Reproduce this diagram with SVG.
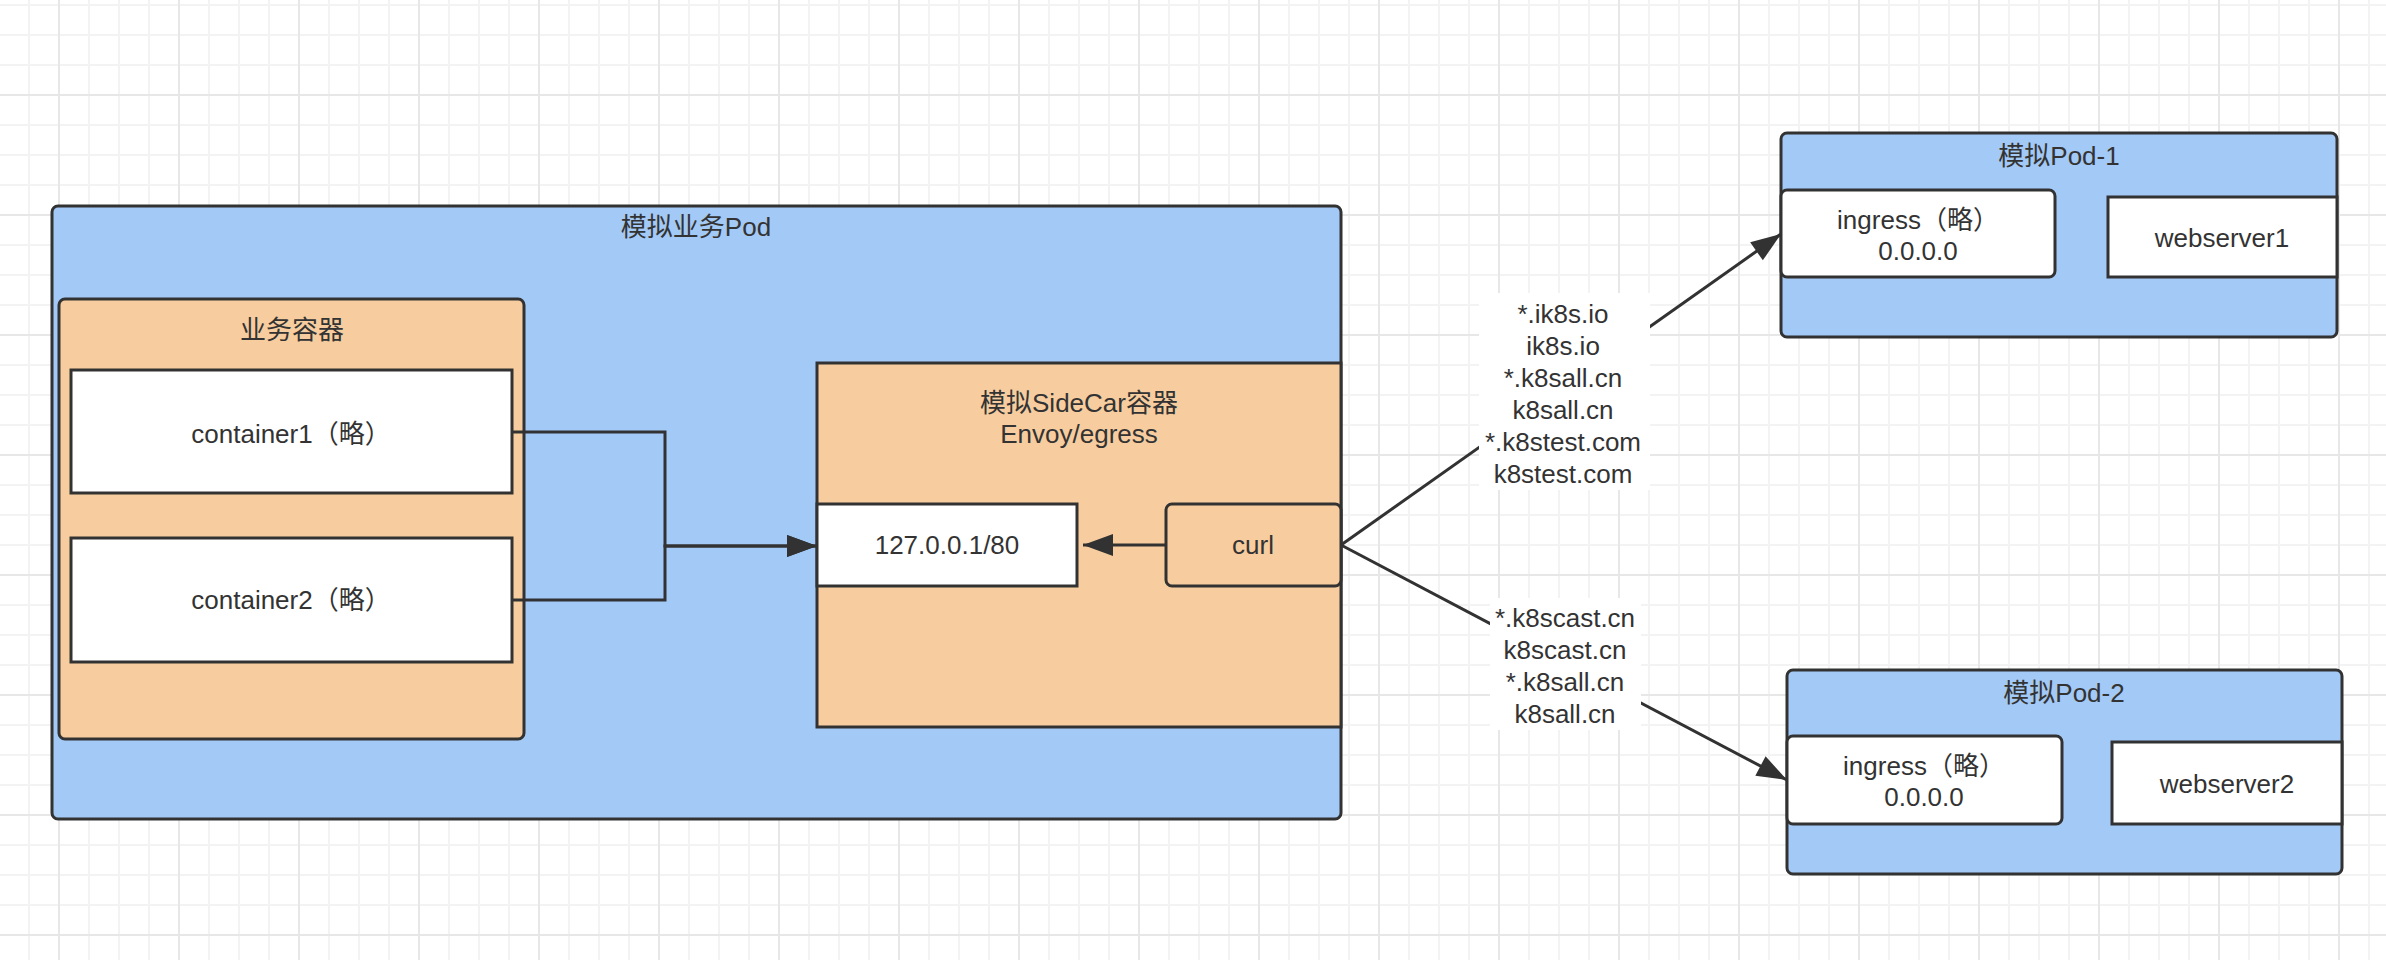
<svg xmlns="http://www.w3.org/2000/svg" width="2386" height="960" viewBox="0 0 2386 960">
<style>
text{font-family:"Liberation Sans","Noto Sans CJK SC",sans-serif;font-size:26px;fill:#333;text-anchor:middle}
.pod{fill:#a3c9f6;stroke:#323232;stroke-width:3}
.peach{fill:#f7cd9f;stroke:#323232;stroke-width:3}
.white{fill:#fff;stroke:#323232;stroke-width:3}
.conn{fill:none;stroke:#323232;stroke-width:3}
.lbl{fill:#fff;stroke:none}
</style>
<defs>
<pattern id="grid" patternUnits="userSpaceOnUse" x="58" y="94" width="120" height="120">
<rect width="120" height="120" fill="#fff"/>
<g fill="#f3f3f3">
<rect x="30" y="0" width="2" height="120"/><rect x="60" y="0" width="2" height="120"/><rect x="90" y="0" width="2" height="120"/>
<rect x="0" y="30" width="120" height="2"/><rect x="0" y="60" width="120" height="2"/><rect x="0" y="90" width="120" height="2"/>
</g>
<g fill="#e7e7e7">
<rect x="0" y="0" width="2" height="120"/><rect x="0" y="0" width="120" height="2"/>
</g>
</pattern>
<marker id="arr" markerUnits="userSpaceOnUse" markerWidth="32" markerHeight="24" refX="31" refY="12" orient="auto">
<path d="M1,1 L31,12 L1,23 z" fill="#323232"/>
</marker>
</defs>
<rect width="2386" height="960" fill="url(#grid)"/>

<g id="main-pod">
<rect class="pod" x="52" y="206" width="1289" height="613" rx="6"/>
<text x="696" y="236">模拟业务Pod</text>
</g>
<g id="biz-container">
<rect class="peach" x="59" y="299" width="465" height="440" rx="6"/>
<text x="292" y="339">业务容器</text>
</g>
<g id="container1">
<rect class="white" x="71" y="370" width="441" height="123"/>
<text x="291" y="443">container1（略）</text>
</g>
<g id="container2">
<rect class="white" x="71" y="538" width="441" height="124"/>
<text x="291" y="609">container2（略）</text>
</g>
<g id="sidecar">
<rect class="peach" x="817" y="363" width="524" height="364"/>
<text x="1079" y="412">模拟SideCar容器</text>
<text x="1079" y="443">Envoy/egress</text>
</g>
<g id="local-port">
<rect class="white" x="817" y="504" width="260" height="82"/>
<text x="947" y="554">127.0.0.1/80</text>
</g>
<g id="curl">
<rect class="peach" x="1166" y="504" width="175" height="82" rx="6"/>
<text x="1253" y="554">curl</text>
</g>

<g id="pod1">
<rect class="pod" x="1781" y="133" width="556" height="204" rx="6"/>
<text x="2059" y="165">模拟Pod-1</text>
</g>
<g id="ingress1">
<rect class="white" x="1781" y="190" width="274" height="87" rx="6"/>
<text x="1918" y="229">ingress（略）</text>
<text x="1918" y="260">0.0.0.0</text>
</g>
<g id="webserver1">
<rect class="white" x="2108" y="197" width="229" height="80"/>
<text x="2222" y="247">webserver1</text>
</g>

<g id="pod2">
<rect class="pod" x="1787" y="670" width="555" height="204" rx="6"/>
<text x="2064" y="702">模拟Pod-2</text>
</g>
<g id="ingress2">
<rect class="white" x="1787" y="736" width="275" height="88" rx="6"/>
<text x="1924" y="775">ingress（略）</text>
<text x="1924" y="806">0.0.0.0</text>
</g>
<g id="webserver2">
<rect class="white" x="2112" y="742" width="230" height="82"/>
<text x="2227" y="793">webserver2</text>
</g>

<g id="connectors">
<path class="conn" d="M512,432 H665 V546 H817" marker-end="url(#arr)"/>
<path class="conn" d="M512,600 H665 V546 H817" marker-end="url(#arr)"/>
<path class="conn" d="M1166,545 H1083" marker-end="url(#arr)"/>
<path class="conn" d="M1341,545 L1781,234" marker-end="url(#arr)"/>
<path class="conn" d="M1341,545 L1787,780" marker-end="url(#arr)"/>
<rect class="lbl" x="1479" y="293" width="171" height="197"/>
<text x="1563" y="323">*.ik8s.io</text>
<text x="1563" y="355">ik8s.io</text>
<text x="1563" y="387">*.k8sall.cn</text>
<text x="1563" y="419">k8sall.cn</text>
<text x="1563" y="451">*.k8stest.com</text>
<text x="1563" y="483">k8stest.com</text>
<rect class="lbl" x="1490" y="598" width="151" height="132"/>
<text x="1565" y="627">*.k8scast.cn</text>
<text x="1565" y="659">k8scast.cn</text>
<text x="1565" y="691">*.k8sall.cn</text>
<text x="1565" y="723">k8sall.cn</text>
</g>
</svg>
